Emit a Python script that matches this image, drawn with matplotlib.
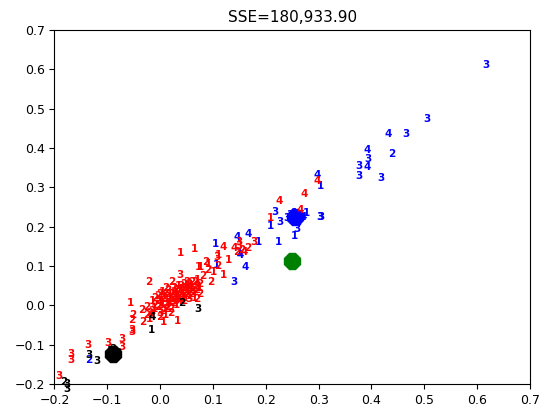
import matplotlib
matplotlib.use("Agg")
import matplotlib.pyplot as plt

# cluster members as (x, y, label)
red_pts = [
  (-0.191, -0.180, '3'), (-0.169, -0.124, '3'), (-0.169, -0.140, '3'),
  (-0.136, -0.102, '3'), (-0.098, -0.096, '3'), (-0.073, -0.106, '3'),
  (-0.073, -0.085, '3'), (-0.054, -0.068, '3'), (-0.054, -0.063, '3'),
  (-0.054, -0.038, '2'), (-0.057, 0.005, '1'), (-0.035, -0.012, '2'),
  (-0.051, -0.025, '2'), (-0.032, -0.042, '2'), (-0.022, 0.060, '2'),
  (0.006, -0.042, '1'), (0.033, -0.040, '1'), (0.022, 0.060, '2'),
  (0.038, 0.077, '3'), (0.076, 0.098, '1'), (0.095, 0.060, '2'),
  (0.091, 0.106, '1'), (0.120, 0.077, '1'), (0.110, 0.127, '1'),
  (0.038, 0.132, '1'), (0.065, 0.144, '1'), (0.072, 0.098, '1'),
  (0.087, 0.110, '2'), (0.091, 0.089, '2'), (0.107, 0.123, '3'),
  (0.120, 0.149, '4'), (0.129, 0.115, '1'), (0.140, 0.145, '4'),
  (0.150, 0.150, '3'), (0.155, 0.140, '2'), (0.160, 0.135, '4'),
  (0.145, 0.135, '2'), (0.165, 0.145, '2'), (0.150, 0.160, '3'),
  (0.177, 0.161, '3'), (0.225, 0.266, '4'), (0.208, 0.221, '1'),
  (0.273, 0.284, '4'), (0.298, 0.317, '4'), (0.265, 0.242, '4'),
  (0.100, 0.085, '1'), (0.110, 0.100, '2'), (0.080, 0.075, '2'),
  # dense core
  (-0.020, -0.020, '2'), (-0.010, -0.010, '1'), (-0.010, 0.000, '2'),
  (0.000, -0.020, '3'), (0.000, 0.000, '2'), (0.000, 0.010, '1'),
  (0.010, 0.000, '2'), (0.010, 0.020, '3'), (0.010, -0.010, '2'),
  (0.020, 0.010, '2'), (0.020, 0.020, '1'), (0.020, 0.030, '2'),
  (0.030, 0.010, '3'), (0.030, 0.020, '2'), (0.030, 0.030, '1'),
  (0.040, 0.020, '2'), (0.040, 0.030, '3'), (0.040, 0.040, '2'),
  (0.050, 0.030, '2'), (0.050, 0.040, '1'), (0.050, 0.050, '3'),
  (0.060, 0.030, '2'), (0.060, 0.040, '2'), (0.060, 0.050, '1'),
  (0.070, 0.040, '2'), (0.070, 0.050, '3'), (0.065, 0.020, '1'),
  (0.070, 0.015, '2'), (-0.005, 0.025, '2'), (0.005, 0.035, '1'),
  (0.015, 0.040, '2'), (-0.015, 0.010, '1'), (0.000, -0.030, '2'),
  (0.010, -0.025, '1'), (0.020, -0.010, '2'), (0.030, 0.000, '1'),
  (0.045, 0.010, '2'), (0.055, 0.015, '3'), (-0.025, -0.005, '2'),
  (0.025, 0.045, '2'), (0.035, 0.050, '1'), (0.045, 0.055, '2'),
  (0.060, 0.060, '2'), (0.070, 0.065, '1'), (0.075, 0.030, '2'),
  (0.075, 0.055, '2'), (-0.020, -0.035, '1'), (0.020, -0.020, '2'),
  (0.005, 0.015, '2'), (0.015, 0.005, '1'), (0.025, 0.015, '2'),
  (0.035, 0.025, '2'), (0.055, 0.025, '1'), (0.065, 0.045, '2'),
  (-0.005, -0.005, '2'), (0.005, -0.015, '2'), (0.015, 0.015, '2'),
  (0.025, 0.025, '2'), (0.035, 0.035, '2'), (0.045, 0.045, '2'),
  (0.055, 0.055, '2'), (0.065, 0.060, '2'), (0.075, 0.045, '1'),
  (-0.015, -0.015, '2'), (-0.005, 0.010, '2'), (0.005, 0.025, '2'),
  (0.015, 0.030, '2'), (0.025, 0.035, '2'), (0.035, 0.040, '2'),
  (0.045, 0.030, '2'), (0.055, 0.035, '2'), (0.065, 0.035, '2'),
  (0.005, 0.005, '1'), (0.015, -0.005, '2'), (0.025, 0.005, '2'),
  (0.035, 0.015, '1'), (0.045, 0.020, '2'), (0.055, 0.045, '2'),
  (-0.010, 0.020, '2'), (0.000, 0.030, '2'), (0.010, 0.045, '2'),
  (0.030, 0.040, '2'), (0.040, 0.050, '3'), (0.050, 0.060, '2'),
  (-0.025, -0.025, '2'), (-0.015, -0.025, '2'), (0.040, 0.010, '2'),
]

blue_pts = [
  (-0.136, -0.138, '2'), (0.139, 0.060, '3'), (0.106, 0.102, '1'),
  (0.161, 0.098, '4'), (0.151, 0.132, '1'), (0.104, 0.157, '1'),
  (0.145, 0.174, '4'), (0.167, 0.181, '4'), (0.186, 0.161, '1'),
  (0.151, 0.127, '4'), (0.224, 0.161, '1'), (0.218, 0.238, '3'),
  (0.208, 0.201, '1'), (0.226, 0.212, '3'), (0.303, 0.225, '3'),
  (0.259, 0.195, '3'), (0.255, 0.176, '1'), (0.276, 0.235, '1'),
  (0.298, 0.331, '4'), (0.304, 0.303, '1'), (0.617, 0.611, '3'),
  (0.505, 0.474, '3'), (0.432, 0.435, '4'), (0.465, 0.435, '3'),
  (0.391, 0.396, '4'), (0.439, 0.386, '2'), (0.394, 0.373, '3'),
  (0.377, 0.354, '3'), (0.392, 0.352, '4'), (0.377, 0.328, '3'),
  (0.418, 0.324, '3'), (0.305, 0.225, '3'),
  (0.245, 0.230, '3'), (0.260, 0.220, '1'), (0.250, 0.215, '2'),
  (0.265, 0.230, '4'), (0.255, 0.235, '1'), (0.270, 0.225, '4'),
  (0.240, 0.222, '3'), (0.260, 0.210, '3'),
]

black_pts = [
  (0.041, 0.005, '2'), (0.072, -0.008, '3'), (-0.015, -0.030, '4'),
  (-0.016, -0.063, '1'), (-0.135, -0.127, '3'), (-0.120, -0.142, '3'),
  (-0.177, -0.199, '3'), (-0.177, -0.212, '3'), (-0.183, -0.195, '2'),
  (-0.095, -0.115, '3'), (-0.085, -0.130, '1'), (-0.090, -0.110, '2'),
  (-0.080, -0.120, '3'), (-0.100, -0.125, '2'),
]

cent_x = [-0.089, 0.255, 0.249]
cent_y = [-0.123, 0.225, 0.113]
cent_colors = ['black', 'blue', 'green']

fig = plt.figure(figsize=(5.5, 4.19), dpi=100)
ax = fig.add_axes([0.099, 0.0835, 0.8646, 0.8445])

for i in range(len(cent_x)):
  ax.plot(cent_x[i], cent_y[i], marker='8', markersize=13,
          color=cent_colors[i], zorder=2)

for pts, col in [(blue_pts, 'blue'), (red_pts, 'red'), (black_pts, 'black')]:
  for x, y, lab in pts:
    ax.text(x, y, lab, color=col, fontsize=7.5, fontweight='bold',
            ha='center', va='center', zorder=3)

ax.set_xlim(-0.2, 0.7)
ax.set_ylim(-0.2, 0.7)
ax.set_xticks([-0.2, -0.1, 0.0, 0.1, 0.2, 0.3, 0.4, 0.5, 0.6, 0.7])
ax.set_yticks([-0.2, -0.1, 0.0, 0.1, 0.2, 0.3, 0.4, 0.5, 0.6, 0.7])
ax.tick_params(labelsize=9)
ax.set_title("SSE=180,933.90", fontsize=11)

plt.savefig("out.png", dpi=100)
